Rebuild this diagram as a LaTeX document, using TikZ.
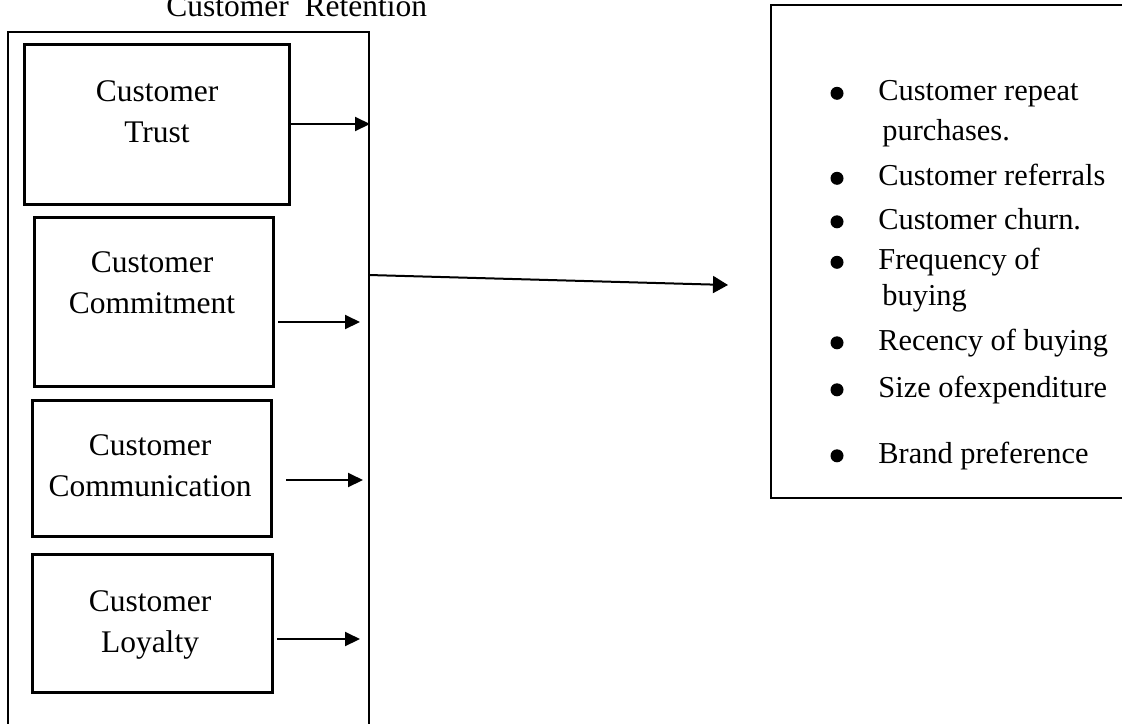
\documentclass[tikz,border=0pt]{standalone}
\usepackage{fontspec}
\setmainfont{Liberation Serif}
\usepackage{tikz}
\usetikzlibrary{arrows.meta}

\begin{document}
\begin{tikzpicture}[x=0.5pt,y=-0.5pt,
	outerbox/.style={draw, line width=1pt, inner sep=0pt},
	innerbox/.style={draw, line width=1.5pt, inner sep=0pt},
	boxtext/.style={align=center, anchor=north, inner sep=0pt, font=\fontsize{15.75pt}{20.5pt}\selectfont},
	itemtext/.style={anchor=base west, inner sep=0pt, font=\fontsize{15.2pt}{20pt}\selectfont},
	itembullet/.style={circle, fill, inner sep=0pt, minimum size=6.5pt, yshift=3.6pt},
	link/.style={line width=1pt, -{Triangle[length=7.5pt,width=7pt]}}]
	\useasboundingbox (0,0) rectangle (1122,723);
	%%%nodes
	%title
	\node[anchor=base west, inner sep=0pt, font=\fontsize{15.75pt}{20pt}\selectfont] at (166,16) (title){Customer~~Retention};
	%outer boxes
	\node[outerbox, minimum width=180.5pt, minimum height=354pt] at (188.5,386) (retention){};
	\node[outerbox, minimum width=184.5pt, minimum height=246.5pt] at (955.5,251.5) (measures){};
	%inner boxes
	\node[innerbox, minimum width=132.5pt, minimum height=80pt] at (156.5,124) (trust){};
	\node[innerbox, minimum width=119.5pt, minimum height=84.5pt] at (153.5,301.5) (commitment){};
	\node[innerbox, minimum width=119.5pt, minimum height=68pt] at (151.5,468) (communication){};
	\node[innerbox, minimum width=120pt, minimum height=69pt] at (152,623) (loyalty){};
	%box texts
	\node[boxtext] at (157,80.5) (trusttext){Customer\\Trust};
	\node[boxtext] at (152,251.5) (committext){Customer\\Commitment};
	\node[boxtext] at (150,434.5) (commtext){Customer\\Communication};
	\node[boxtext] at (150,590.5) (loyaltext){Customer\\Loyalty};
	%list
	\node[itembullet] at (837,100.5) (b1){};
	\node[itemtext] at (878,100.5) (i1){Customer repeat};
	\node[itemtext] at (882,140.5) (i1b){purchases.};
	\node[itembullet] at (837,185.5) (b2){};
	\node[itemtext] at (878,185.5) (i2){Customer referrals};
	\node[itembullet] at (837,229) (b3){};
	\node[itemtext] at (878,229) (i3){Customer churn.};
	\node[itembullet] at (837,269.5) (b4){};
	\node[itemtext] at (878,269.5) (i4){Frequency of};
	\node[itemtext] at (882,305) (i4b){buying};
	\node[itembullet] at (837,350) (b5){};
	\node[itemtext] at (878,350) (i5){Recency of buying};
	\node[itembullet] at (837,397) (b6){};
	\node[itemtext] at (878,397) (i6){Size ofexpenditure};
	\node[itembullet] at (837,463) (b7){};
	\node[itemtext] at (878,463) (i7){Brand preference};
	%arrow ends
	\coordinate (c2a) at (278,322);
	\coordinate (c2b) at (360,322);
	\coordinate (c3a) at (286,480);
	\coordinate (c3b) at (363,480);
	\coordinate (c4a) at (277,639);
	\coordinate (c4b) at (360,639);
	\coordinate (ra) at (369,275);
	\coordinate (rb) at (728,285);
	%%%links
	\draw[link] (trust.east) -- (trust.east -| retention.east);
	\draw[link] (c2a) -- (c2b);
	\draw[link] (c3a) -- (c3b);
	\draw[link] (c4a) -- (c4b);
	\draw[link, -{Triangle[length=7.5pt,width=8.5pt]}] (ra) -- (rb);
\end{tikzpicture}
\end{document}
